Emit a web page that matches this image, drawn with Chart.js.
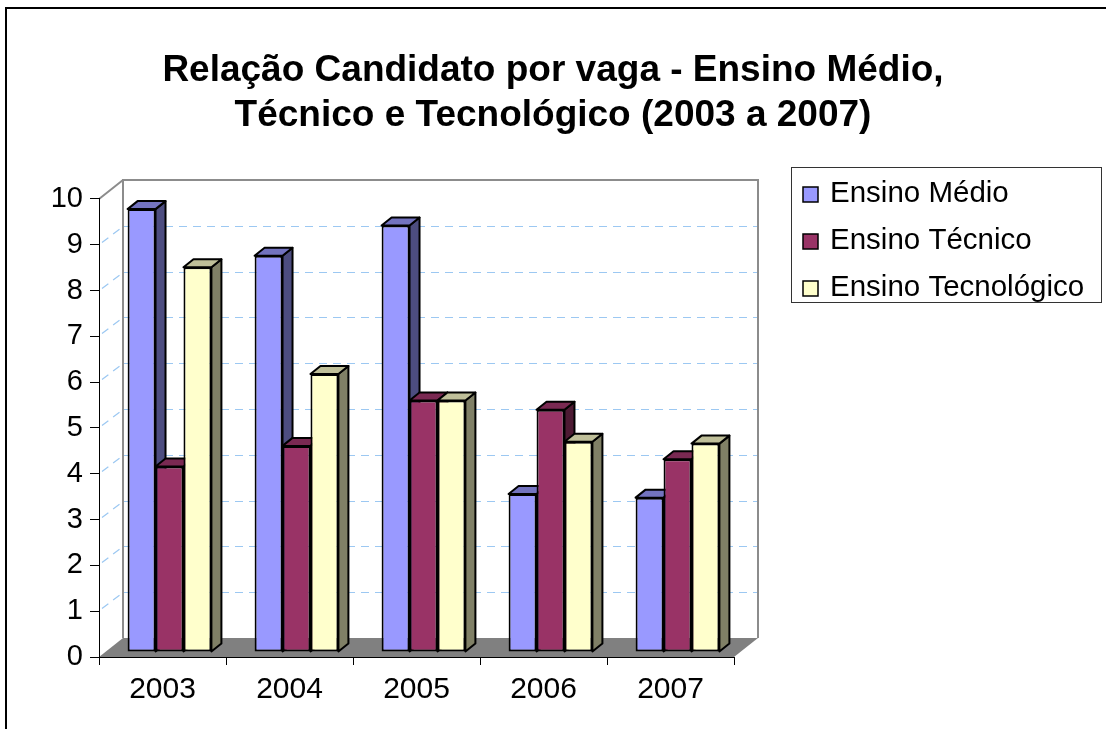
<!DOCTYPE html>
<html>
<head>
<meta charset="utf-8">
<script src="https://cdn.jsdelivr.net/npm/chart.js@4.4.1/dist/chart.umd.min.js"></script>
<style>
  html, body { margin: 0; padding: 0; background: #fff; }
  canvas { display: block; }
</style>
</head>
<body>
<canvas id="vagas" width="1106" height="729"></canvas>
<script>
// dados
const categories = ["2003", "2004", "2005", "2006", "2007"];
const ensinoMedio = [9.67, 8.65, 9.31, 3.45, 3.37];
const ensinoTecnico = [4.05, 4.5, 5.49, 5.29, 4.21];
const ensinoTecnologico = [8.4, 6.07, 5.49, 4.59, 4.55];
const seriesNames = ["Ensino Médio", "Ensino Técnico", "Ensino Tecnológico"];

const FONT = "'Liberation Sans', Arial, sans-serif";

// cores: frente, lado, topo
const faceColors = [
    { front: "#9999FF", side: "#4D4D80", top: "#7373BF" },
    { front: "#993366", side: "#4D1A33", top: "#7A2952" },
    { front: "#FFFFCC", side: "#808066", top: "#BFBF99" },
];

// profundidade das paredes e das barras
const WALL_DX = 24;
const WALL_DY = 19;
const BAR_DX = 10;
const BAR_DY = 8;
const SHIFT_X = 7;
const SHIFT_Y = -5;

function poly(ctx, pts, fill, stroke, lw) {
    ctx.beginPath();
    ctx.moveTo(pts[0][0], pts[0][1]);
    for (var i = 1; i < pts.length; i++) ctx.lineTo(pts[i][0], pts[i][1]);
    ctx.closePath();
    if (fill) {
        ctx.fillStyle = fill;
        ctx.fill();
    }
    if (stroke) {
        ctx.strokeStyle = stroke;
        ctx.lineWidth = lw || 1;
        ctx.stroke();
    }
}

const depthPlugin = {
    id: "depth3d",
    beforeDraw: function (chart) {
        var ctx = chart.ctx;
        var a = chart.chartArea;
        var y = chart.scales.y;
        ctx.save();

        // moldura externa (so topo e esquerda aparecem)
        ctx.strokeStyle = "#000";
        ctx.lineWidth = 2;
        ctx.beginPath();
        ctx.moveTo(6, 760);
        ctx.lineTo(6, 8);
        ctx.lineTo(1200, 8);
        ctx.stroke();

        // parede do fundo
        var bl = a.left + WALL_DX, br = a.right + WALL_DX;
        var bt = a.top - WALL_DY, bb = a.bottom - WALL_DY;
        ctx.fillStyle = "#fff";
        ctx.fillRect(bl, bt, br - bl, bb - bt);

        // parede lateral
        poly(ctx, [[a.left, a.top], [bl, bt], [bl, bb], [a.left, a.bottom]], "#fff");

        // linhas de grade tracejadas
        ctx.strokeStyle = "#9CC8F2";
        ctx.lineWidth = 1.2;
        ctx.setLineDash([8, 6]);
        y.ticks.forEach(function (t) {
            if (t.value <= 0 || t.value >= 10) return;
            var py = Math.round(y.getPixelForValue(t.value)) + 0.5;
            ctx.beginPath();
            ctx.moveTo(bl, py - WALL_DY);
            ctx.lineTo(br, py - WALL_DY);
            ctx.stroke();
            ctx.beginPath();
            ctx.moveTo(a.left + 3, py - 3);
            ctx.lineTo(bl, py - WALL_DY);
            ctx.stroke();
        });
        ctx.setLineDash([]);

        // contorno das paredes
        ctx.strokeStyle = "#8c8c8c";
        ctx.lineWidth = 2;
        ctx.beginPath();
        ctx.moveTo(bl, bb);
        ctx.lineTo(bl, bt);
        ctx.lineTo(br, bt);
        ctx.lineTo(br, bb);
        ctx.moveTo(a.left, a.top);
        ctx.lineTo(bl, bt);
        ctx.stroke();

        // piso
        poly(ctx, [[a.left, a.bottom], [a.right, a.bottom], [br, bb], [bl, bb]], "#808080");
        ctx.restore();
    },
    beforeDatasetsDraw: function (chart) {
        var ctx = chart.ctx;
        ctx.save();
        ctx.translate(SHIFT_X, SHIFT_Y);
        ctx.lineJoin = "round";
        chart.data.datasets.forEach(function (ds, i) {
            var meta = chart.getDatasetMeta(i);
            var c = faceColors[i];
            meta.data.forEach(function (bar) {
                var p = bar.getProps(["x", "y", "base", "width"], true);
                var l = p.x - p.width / 2, r = p.x + p.width / 2;
                bar.draw(ctx);
                poly(ctx, [[r, p.y], [r + BAR_DX, p.y - BAR_DY], [r + BAR_DX, p.base - BAR_DY], [r, p.base]], c.side, "#000", 2);
                poly(ctx, [[l, p.y], [l + BAR_DX, p.y - BAR_DY], [r + BAR_DX, p.y - BAR_DY], [r, p.y]], c.top, "#000", 2);
            });
        });
        ctx.restore();
        return false;
    },
    afterDraw: function (chart) {
        // legenda
        var ctx = chart.ctx;
        ctx.save();
        ctx.fillStyle = "#fff";
        ctx.fillRect(791, 167, 311, 136);
        ctx.strokeStyle = "#333";
        ctx.lineWidth = 1;
        ctx.strokeRect(791.5, 167.5, 310, 135);
        ctx.font = "29.5px " + FONT;
        ctx.textBaseline = "middle";
        ctx.textAlign = "left";
        var rows = [194, 241, 288];
        chart.data.datasets.forEach(function (ds, i) {
            ctx.fillStyle = ds.backgroundColor;
            ctx.fillRect(803, rows[i] - 7, 15, 15);
            ctx.strokeStyle = "#000";
            ctx.lineWidth = 1.5;
            ctx.strokeRect(803, rows[i] - 7, 15, 15);
            ctx.fillStyle = "#000";
            ctx.fillText(ds.label, 830, rows[i]);
        });
        ctx.restore();
    },
};

const datasets = [ensinoMedio, ensinoTecnico, ensinoTecnologico].map(function (vals, i) {
    return {
        label: seriesNames[i],
        data: vals,
        backgroundColor: faceColors[i].front,
        borderColor: "#000",
        borderWidth: 2,
        borderSkipped: false,
        barPercentage: 1,
        categoryPercentage: 0.66,
        clip: false,
    };
});

new Chart(document.getElementById("vagas").getContext("2d"), {
    type: "bar",
    data: { labels: categories, datasets: datasets },
    plugins: [depthPlugin],
    options: {
        responsive: false,
        animation: false,
        events: [],
        layout: { padding: 0 },
        plugins: {
            legend: { display: false },
            tooltip: { enabled: false },
            title: {
                display: true,
                text: ["Relação Candidato por vaga - Ensino Médio,", "Técnico e Tecnológico (2003 a 2007)"],
                color: "#000",
                font: { family: FONT, size: 37, weight: "bold", lineHeight: 1.216 },
                padding: { top: 48, bottom: 61 },
            },
        },
        scales: {
            x: {
                afterFit: function (scale) {
                    scale.height = 72;
                },
                grid: {
                    drawOnChartArea: false,
                    tickLength: 8,
                    color: "#000",
                },
                border: { display: true, color: "#000", width: 1 },
                ticks: {
                    color: "#000",
                    padding: 7,
                    font: { family: FONT, size: 30 },
                },
            },
            y: {
                min: 0,
                max: 10,
                afterFit: function (scale) {
                    scale.width = 99;
                },
                grid: {
                    drawOnChartArea: false,
                    tickLength: 9,
                    color: "#000",
                },
                border: { display: true, color: "#000", width: 1 },
                ticks: {
                    stepSize: 1,
                    color: "#000",
                    padding: 7,
                    font: { family: FONT, size: 29 },
                },
            },
            // espaco reservado a direita para a legenda
            reserva: {
                position: "right",
                afterFit: function (scale) {
                    scale.width = 372;
                },
                grid: { display: false },
                border: { display: false },
                ticks: { display: false },
            },
        },
    },
});
</script>
</body>
</html>
